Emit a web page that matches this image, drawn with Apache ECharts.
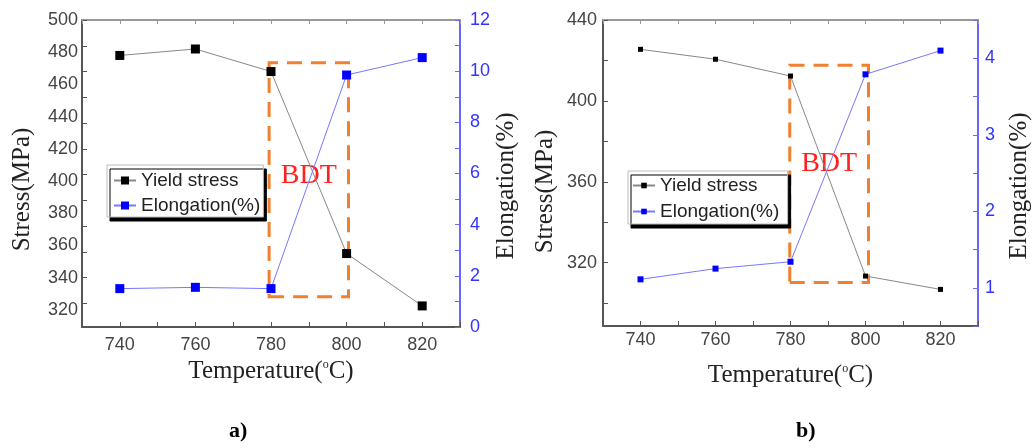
<!DOCTYPE html>
<html><head><meta charset="utf-8">
<script src="https://cdn.jsdelivr.net/npm/echarts@6/dist/echarts.min.js"></script>
<style>html,body{margin:0;padding:0;background:#fff}#c{width:1033px;height:448px}</style>
</head><body><div id="c"></div>
<script>
// ---- data ----
const temperatures = [740, 760, 780, 800, 820];
const tempLabels = [740, 760, 780, 800, 820];
const yieldStressA = [478, 482, 468, 355, 322.5];
const elongationA = [1.5, 1.55, 1.5, 9.85, 10.53];
const yieldStressB = [425.5, 420.6, 412.3, 313.4, 306.8];
const elongationB = [1.11, 1.25, 1.34, 3.79, 4.10];
const stressLabelsA = [320, 340, 360, 380, 400, 420, 440, 460, 480, 500];
const stressTicksA = [324, 340, 356, 372, 388, 404, 420, 436, 452, 468, 484, 500];
const elongLabelsA = [0, 2, 4, 6, 8, 10, 12];
const stressLabelsB = [320, 360, 400, 440];
const stressTicksB = [300, 320, 340, 360, 380, 400, 420, 440];
const elongLabelsB = [1, 2, 3, 4];
const bdtXA = [779.5, 800.5];
const bdtYA = [1.18, 10.33];
const bdtXB = [779.8, 800.8];
const bdtYB = [1.07, 3.91];

const SANS = 'Liberation Sans, Arial, sans-serif';
const SERIF = 'Liberation Serif, Times New Roman, serif';
const ORANGE = '#f08030';

function pairs(xs, ys) { return xs.map((x, i) => [x, ys[i]]); }

function xBottom(gi, gap, margin) {
  return {
    type: 'value', gridIndex: gi, position: 'bottom', min: 730, max: 830, interval: 10,
    axisLine: { show: true, lineStyle: { color: '#555', width: 2 } },
    axisTick: { show: true, inside: true, length: 5, lineStyle: { color: '#555', width: 1 } },
    axisLabel: { customValues: tempLabels, fontFamily: SANS, fontSize: 18, color: '#444', margin: margin },
    splitLine: { show: false },
    name: '{n|Temperature(}{s|o}{n|C)}', nameLocation: 'middle', nameGap: gap,
    nameTextStyle: { rich: { n: { fontFamily: SERIF, fontSize: 25, color: '#222' }, s: { fontFamily: SERIF, fontSize: 12, color: '#222', verticalAlign: 'top', padding: [0, 0, 12, 0] } } }
  };
}
function xTop(gi) {
  return {
    type: 'value', gridIndex: gi, position: 'top', min: 730, max: 830, interval: 10,
    axisLine: { show: true, lineStyle: { color: '#999', width: 2 } },
    axisTick: { show: true, inside: true, length: 4, lineStyle: { color: '#999', width: 1 } },
    axisLabel: { show: false }, splitLine: { show: false }
  };
}

const option = {
  backgroundColor: '#fff',
  animation: false,
  grid: [
    { left: 82, top: 20, width: 378, height: 307 },
    { left: 603, top: 20, width: 380, height: 306 }
  ],
  title: [
    { text: 'a)', left: 229, top: 420, textStyle: { fontFamily: SERIF, fontWeight: 'bold', fontSize: 22, color: '#000' }, padding: 0 },
    { text: 'b)', left: 796, top: 420, textStyle: { fontFamily: SERIF, fontWeight: 'bold', fontSize: 22, color: '#000' }, padding: 0 }
  ],
  legend: [
    {
      data: ['Yield stress', 'Elongation(%)'], orient: 'vertical', left: 107, top: 165,
      itemWidth: 22, itemHeight: 10, itemGap: 6, padding: [6, 3, 2, 6],
      textStyle: { fontFamily: SANS, fontSize: 19, color: '#222' },
      backgroundColor: '#fff', borderColor: '#bbb', borderWidth: 1,
      shadowColor: '#000', shadowBlur: 0, shadowOffsetX: 3, shadowOffsetY: 4
    },
    {
      data: ['Yield stress ', 'Elongation(%) '], orient: 'vertical', left: 628, top: 171,
      itemWidth: 22, itemHeight: 7, itemGap: 7, padding: [5, 3, 3, 4],
      textStyle: { fontFamily: SANS, fontSize: 19, color: '#222' },
      backgroundColor: '#fff', borderColor: '#bbb', borderWidth: 1,
      shadowColor: '#000', shadowBlur: 0, shadowOffsetX: 3, shadowOffsetY: 4
    }
  ],
  xAxis: [xBottom(0, 27, 9), xTop(0), xBottom(1, 37, 5), xTop(1)],
  yAxis: [
    {
      type: 'value', gridIndex: 0, position: 'left', min: 309.4, max: 500,
      axisLine: { show: true, lineStyle: { color: '#555', width: 2 } },
      axisTick: { show: true, inside: true, length: 5, customValues: stressTicksA, lineStyle: { color: '#555' } },
      axisLabel: { customValues: stressLabelsA, fontFamily: SANS, fontSize: 18, color: '#444', margin: 4 },
      splitLine: { show: false },
      name: 'Stress(MPa)', nameLocation: 'middle', nameRotate: 90, nameGap: 47,
      nameTextStyle: { fontFamily: SERIF, fontSize: 25, color: '#222', padding: [0, 32, 0, 0] }
    },
    {
      type: 'value', gridIndex: 0, position: 'right', min: 0, max: 12, interval: 1,
      axisLine: { show: true, lineStyle: { color: '#6666ff', width: 2 } },
      axisTick: { show: true, inside: true, length: 5, lineStyle: { color: '#6666ff' } },
      axisLabel: { customValues: elongLabelsA, fontFamily: SANS, fontSize: 18, color: '#3333ff', margin: 10 },
      splitLine: { show: false },
      name: 'Elongation(%)', nameLocation: 'middle', nameRotate: 90, nameGap: 34,
      nameTextStyle: { fontFamily: SERIF, fontSize: 25, color: '#222', padding: [0, 25, 0, 0] }
    },
    {
      type: 'value', gridIndex: 1, position: 'left', min: 288.7, max: 440,
      axisLine: { show: true, lineStyle: { color: '#555', width: 2 } },
      axisTick: { show: true, inside: true, length: 5, customValues: stressTicksB, lineStyle: { color: '#555' } },
      axisLabel: { customValues: stressLabelsB, fontFamily: SANS, fontSize: 18, color: '#444', margin: 6 },
      splitLine: { show: false },
      name: 'Stress(MPa)', nameLocation: 'middle', nameRotate: 90, nameGap: 45,
      nameTextStyle: { fontFamily: SERIF, fontSize: 25, color: '#222', padding: [0, 37, 0, 0] }
    },
    {
      type: 'value', gridIndex: 1, position: 'right', min: 0.5, max: 4.5, interval: 0.5,
      axisLine: { show: true, lineStyle: { color: '#6666ff', width: 2 } },
      axisTick: { show: true, inside: true, length: 5, lineStyle: { color: '#6666ff' } },
      axisLabel: { customValues: elongLabelsB, fontFamily: SANS, fontSize: 18, color: '#3333ff', margin: 7 },
      splitLine: { show: false },
      name: 'Elongation(%)', nameLocation: 'middle', nameRotate: 90, nameGap: 29,
      nameTextStyle: { fontFamily: SERIF, fontSize: 25, color: '#222', padding: [0, 26, 0, 0] }
    }
  ],
  series: [
    {
      name: 'Yield stress', type: 'line', xAxisIndex: 0, yAxisIndex: 0,
      data: pairs(temperatures, yieldStressA), symbol: 'rect', symbolSize: 9,
      itemStyle: { color: '#000' }, lineStyle: { color: '#888', width: 1 }, z: 3
    },
    {
      name: 'Elongation(%)', type: 'line', xAxisIndex: 0, yAxisIndex: 1,
      data: pairs(temperatures, elongationA), symbol: 'rect', symbolSize: 9,
      itemStyle: { color: '#0000ff' }, lineStyle: { color: '#7777ff', width: 1 }, z: 3,
      markArea: {
        silent: true,
        itemStyle: { color: 'rgba(0,0,0,0)', borderColor: ORANGE, borderWidth: 3, borderType: [15, 9] },
        label: { show: true, position: 'inside', formatter: 'BDT', fontFamily: SERIF, fontSize: 28, color: '#ff2020', offset: [0, -4] },
        data: [[{ coord: [bdtXA[0], bdtYA[0]] }, { coord: [bdtXA[1], bdtYA[1]] }]]
      }
    },
    {
      name: 'Yield stress ', type: 'line', xAxisIndex: 2, yAxisIndex: 2,
      data: pairs(temperatures, yieldStressB), symbol: 'rect', symbolSize: 5,
      itemStyle: { color: '#000' }, lineStyle: { color: '#888', width: 1 }, z: 3
    },
    {
      name: 'Elongation(%) ', type: 'line', xAxisIndex: 2, yAxisIndex: 3,
      data: pairs(temperatures, elongationB), symbol: 'rect', symbolSize: 6,
      itemStyle: { color: '#0000ff' }, lineStyle: { color: '#7777ff', width: 1 }, z: 3,
      markArea: {
        silent: true,
        itemStyle: { color: 'rgba(0,0,0,0)', borderColor: ORANGE, borderWidth: 3, borderType: [15, 9] },
        label: { show: true, position: 'inside', formatter: 'BDT', fontFamily: SERIF, fontSize: 28, color: '#ff2020', offset: [0, -10] },
        data: [[{ coord: [bdtXB[0], bdtYB[0]] }, { coord: [bdtXB[1], bdtYB[1]] }]]
      }
    }
  ]
};
const chart = echarts.init(document.getElementById('c'), null, { renderer: 'canvas' });
chart.setOption(option);
</script></body></html>
